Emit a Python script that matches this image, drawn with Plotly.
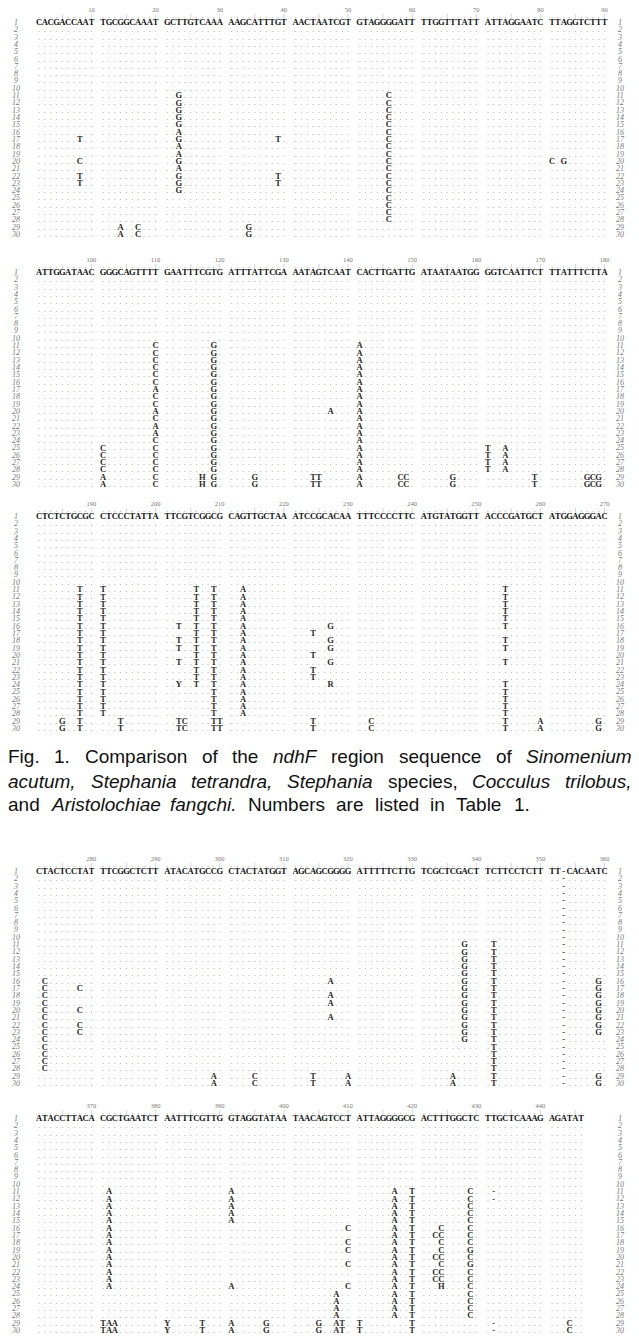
import plotly.graph_objects as go

W, H = 639, 1336

# ---------------- data ----------------
BLOCK_START = [1, 91, 181, 271, 361]
CONSENSUS = [
    "CACGACCAAT TGCGGCAAAT GCTTGTCAAA AAGCATTTGT AACTAATCGT GTAGGGGATT TTGGTTTATT ATTAGGAATC TTAGGTCTTT",
    "ATTGGATAAC GGGCAGTTTT GAATTTCGTG ATTTATTCGA AATAGTCAAT CACTTGATTG ATAATAATGG GGTCAATTCT TTATTTCTTA",
    "CTCTCTGCGC CTCCCTATTA TTCGTCGGCG CAGTTGCTAA ATCCGCACAA TTTCCCCTTC ATGTATGGTT ACCCGATGCT ATGGAGGGAC",
    "CTACTCCTAT TTCGGCTCTT ATACATGCCG CTACTATGGT AGCAGCGGGG ATTTTTCTTG TCGCTCGACT TCTTCCTCTT TT-CACAATC",
    "ATACCTTACA CGCTGAATCT AATTTCGTTG GTAGGTATAA TAACAGTCCT ATTAGGGGCG ACTTTGGCTC TTGCTCAAAG AGATAT",
]
SAMPLES = list(range(1, 31))

# (alignment position, sample rows, bases for those rows)
VARIANTS = [
    (8, "17,20,22,23", "TCTT"),
    (14, "29-30", "A"),
    (17, "29-30", "C"),
    (23, "11-24", "GGGGGAGAAGAGGG"),
    (34, "29-30", "G"),
    (39, "17,22,23", "T"),
    (56, "11-28", "C"),
    (81, "20", "C"),
    (83, "20", "G"),
    (101, "25-30", "CCCCAA"),
    (110, "11-30", "CCCCCCACCACAACCCCCCC"),
    (117, "29-30", "H"),
    (119, "11-30", "G"),
    (125, "29-30", "G"),
    (134, "29-30", "T"),
    (135, "29-30", "T"),
    (137, "20", "A"),
    (141, "11-30", "A"),
    (148, "29-30", "C"),
    (149, "29-30", "C"),
    (156, "29-30", "G"),
    (161, "25-28", "T"),
    (164, "25-28", "A"),
    (169, "29-30", "T"),
    (177, "29-30", "G"),
    (178, "29-30", "C"),
    (179, "29-30", "G"),
    (185, "29-30", "G"),
    (188, "11-30", "T"),
    (191, "11-28", "T"),
    (194, "29-30", "T"),
    (203, "16,18,19,21,24,29,30", "TTTTYTT"),
    (204, "29-30", "C"),
    (206, "11-24", "T"),
    (209, "11-30", "T"),
    (210, "29-30", "T"),
    (213, "11-28", "A"),
    (224, "17,20,22,23,29,30", "T"),
    (227, "16,18,19,21,24", "GGGGR"),
    (233, "29-30", "C"),
    (254, "11-16,18,19,21,24-30", "T"),
    (260, "29-30", "A"),
    (269, "29-30", "G"),
    (272, "16-28", "C"),
    (278, "17,20,22,23", "C"),
    (299, "29-30", "A"),
    (305, "29-30", "C"),
    (314, "29-30", "T"),
    (317, "16,18,19,21", "A"),
    (320, "29-30", "A"),
    (336, "29-30", "A"),
    (338, "11-24", "G"),
    (342, "11-30", "T"),
    (353, "2-30", "-"),
    (359, "16-23,29,30", "G"),
    (371, "29-30", "T"),
    (372, "11-24,29,30", "A"),
    (373, "29-30", "A"),
    (381, "29-30", "Y"),
    (387, "29-30", "T"),
    (391, "11-15,24,29,30", "A"),
    (397, "29-30", "G"),
    (405, "29-30", "G"),
    (408, "25-30", "A"),
    (409, "29-30", "T"),
    (410, "16,18,19,21,24", "C"),
    (411, "29-30", "T"),
    (417, "11-28", "A"),
    (420, "11-30", "T"),
    (423, "17,20,22,23", "C"),
    (424, "16-24", "CCCCCCCCH"),
    (429, "11-28", "CCCCCCCCGCGCCCCCCC"),
    (432, "11,12,29,30", "-"),
    (444, "29-30", "C"),
]

CAPTION_LINES = [
    [("Fig.", 0), ("1.", 0), ("Comparison", 0), ("of", 0), ("the", 0), ("ndhF", 1),
     ("region", 0), ("sequence", 0), ("of", 0), ("Sinomenium", 1)],
    [("acutum,", 1), ("Stephania", 1), ("tetrandra,", 1), ("Stephania", 1),
     ("species,", 0), ("Cocculus", 1), ("trilobus,", 1)],
    [("and", 0), ("Aristolochiae", 1), ("fangchi.", 1), ("Numbers", 0), ("are", 0),
     ("listed", 0), ("in", 0), ("Table", 0), ("1.", 0)],
]

# ---------------- layout constants ----------------
CHAR_PX = 5.83          # pixel pitch of one alignment column
FIRST_PX = 39.0         # pixel centre of first column
ROW_PX = 7.31           # pixel pitch of one sample row
ROW1_Y = [23, 273, 517, 872, 1119]
YR_TOP, YR_BOT = -1.8, 30.6
SEQ_FONT = "Liberation Serif"

X_MIN = (0 - FIRST_PX) / CHAR_PX
X_MAX = (W - FIRST_PX) / CHAR_PX
LEFT_LABEL_COL = (16 - FIRST_PX) / CHAR_PX
RIGHT_LABEL_COL = (620 - FIRST_PX) / CHAR_PX


def parse_rows(spec):
    out = []
    for part in spec.split(","):
        if "-" in part:
            a, b = part.split("-")
            out += list(range(int(a), int(b) + 1))
        else:
            out.append(int(part))
    return out


def col_of(k):
    return k + k // 10


fig = go.Figure()
layout_axes = {}

for b, start in enumerate(BLOCK_START):
    seq = CONSENSUS[b].replace(" ", "")
    n = len(seq)
    grid = {}
    for (pos, spec, bases) in VARIANTS:
        if start <= pos < start + n:
            rows = parse_rows(spec)
            if len(bases) == 1:
                bases = bases * len(rows)
            for r, ch in zip(rows, bases):
                grid[(r, pos - start)] = ch

    ax = "" if b == 0 else str(b + 1)
    xa, ya = "x" + ax, "y" + ax

    # consensus row
    fig.add_trace(go.Scatter(
        x=[col_of(k) for k in range(n)], y=[1] * n, text=list(seq),
        mode="text", textposition="middle center", xaxis=xa, yaxis=ya,
        textfont=dict(family=SEQ_FONT, size=8.5, color="#111111", weight="bold"),
        hoverinfo="skip"))

    # matching positions (dots) and variant bases
    dx, dy, dt = [], [], []
    vx, vy, vt = [], [], []
    for r in SAMPLES[1:]:
        for k in range(n):
            ch = grid.get((r, k))
            if ch is None:
                dx.append(col_of(k)); dy.append(r); dt.append(".")
            else:
                vx.append(col_of(k)); vy.append(r); vt.append(ch)
    fig.add_trace(go.Scatter(
        x=dx, y=dy, text=dt, mode="text", textposition="middle center",
        xaxis=xa, yaxis=ya,
        textfont=dict(family=SEQ_FONT, size=8, color="#8a8a8a"),
        hoverinfo="skip"))
    fig.add_trace(go.Scatter(
        x=vx, y=vy, text=vt, mode="text", textposition="middle center",
        xaxis=xa, yaxis=ya,
        textfont=dict(family=SEQ_FONT, size=8.5, color="#2a2a2a", weight="bold"),
        hoverinfo="skip"))

    # ruler
    rx, ry, rt = [], [], []
    nx, ny, nt = [], [], []
    for k in range(n):
        p = start + k
        rx.append(col_of(k)); ry.append(0.15)
        rt.append("|" if p % 5 == 0 else ".")
        if p % 10 == 0:
            nx.append(col_of(k)); ny.append(-0.7); nt.append(str(p))
    fig.add_trace(go.Scatter(
        x=rx, y=ry, text=rt, mode="text", textposition="middle center",
        xaxis=xa, yaxis=ya,
        textfont=dict(family=SEQ_FONT, size=6.5, color="#777777"),
        hoverinfo="skip"))
    fig.add_trace(go.Scatter(
        x=nx, y=ny, text=nt, mode="text", textposition="middle center",
        xaxis=xa, yaxis=ya,
        textfont=dict(family=SEQ_FONT, size=6.5, color="#777777"),
        hoverinfo="skip"))

    # row labels
    for xc in (LEFT_LABEL_COL, RIGHT_LABEL_COL):
        fig.add_trace(go.Scatter(
            x=[xc] * len(SAMPLES), y=SAMPLES, text=[str(s) for s in SAMPLES],
            mode="text", textposition="middle center", xaxis=xa, yaxis=ya,
            textfont=dict(family=SEQ_FONT, size=8, color="#7a7a7a", style="italic"),
            hoverinfo="skip"))

    top_px = ROW1_Y[b] + (YR_TOP - 1) * ROW_PX
    bot_px = ROW1_Y[b] + (YR_BOT - 1) * ROW_PX
    d0 = max(0.0, 1 - bot_px / H)
    d1 = min(1.0, 1 - top_px / H)
    layout_axes["xaxis" + ax] = dict(domain=[0, 1], range=[X_MIN, X_MAX], visible=False,
                                     anchor=ya, fixedrange=True)
    layout_axes["yaxis" + ax] = dict(domain=[d0, d1],
                                     range=[YR_BOT, YR_TOP], visible=False,
                                     anchor=xa, fixedrange=True)

# ---------------- caption (justified) ----------------
AW = {' ': 278, '.': 278, ',': 278, '1': 556, 'a': 556, 'b': 556, 'c': 500, 'd': 556,
      'e': 556, 'f': 278, 'g': 556, 'h': 556, 'i': 222, 'l': 222, 'm': 833, 'n': 556,
      'o': 556, 'p': 556, 'q': 556, 'r': 333, 's': 500, 't': 278, 'u': 556, 'S': 667,
      'C': 722, 'F': 611, 'N': 722, 'T': 611, 'A': 667}
CAP_FS = 19
CAP_X0, CAP_X1 = 8, 632
CAP_Y = [756, 781, 804]
LAST_GAP = 11


def word_w(w):
    return sum(AW.get(c, 556) for c in w) * CAP_FS / 1000.0


annotations = []
for li, words in enumerate(CAPTION_LINES):
    widths = [word_w(w) for w, _ in words]
    if li < len(CAPTION_LINES) - 1:
        gap = (CAP_X1 - CAP_X0 - sum(widths)) / (len(words) - 1)
    else:
        gap = LAST_GAP
    x = CAP_X0
    for (w, it), ww in zip(words, widths):
        annotations.append(dict(
            text=("<i>%s</i>" % w) if it else w, x=x / W, y=1 - CAP_Y[li] / H,
            xref="paper", yref="paper", xanchor="left", yanchor="middle",
            showarrow=False, borderpad=0, borderwidth=0,
            font=dict(family="Liberation Sans", size=CAP_FS, color="#111111")))
        x += ww + gap

fig.update_layout(
    width=W, height=H, margin=dict(l=0, r=0, t=0, b=0),
    paper_bgcolor="white", plot_bgcolor="white", showlegend=False,
    annotations=annotations, **layout_axes)

fig.write_html(
    "out.html",
    config={"displayModeBar": False},
    post_script="document.body.style.margin='0';document.body.style.overflow='hidden';",
)
